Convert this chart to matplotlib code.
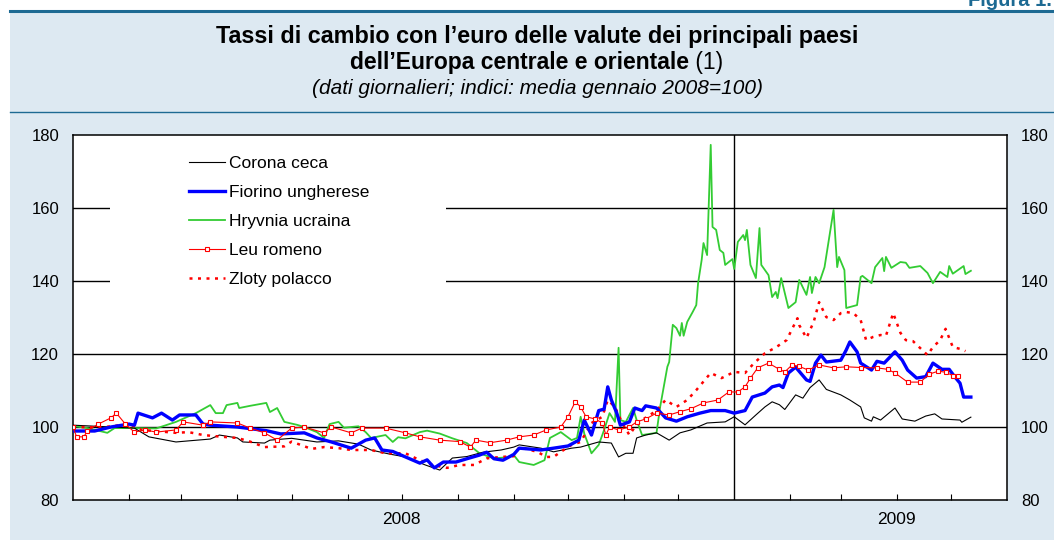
import numpy as np
import matplotlib
matplotlib.use("Agg")
import matplotlib.pyplot as plt
from matplotlib.patches import Rectangle
from matplotlib.lines import Line2D
import matplotlib.transforms as mtransforms

plt.rcParams['font.family'] = ['Liberation Sans', 'DejaVu Sans']

# giorni dal 1 gennaio 2008 e indici (media gennaio 2008=100)
giorni_corona = [0, 34, 42, 57, 64, 76, 81, 91, 94, 106, 109, 121, 135, 147, 158, 165, 175, 184, 195, 203,
                 210, 218, 227, 237, 244, 247, 259, 266, 276, 281, 291, 298, 302, 306, 310, 312, 317, 323, 330, 336,
                 342, 351, 361, 366, 372, 378, 383, 387, 391, 394, 400, 404, 408, 413, 417, 425, 430, 436, 438, 442,
                 443, 447, 455, 459, 466, 472, 477, 481, 491, 492, 497]
valori_corona = [100.5, 99.7, 97.3, 95.9, 96.2, 96.7, 97.8, 97.0, 95.9, 95.6, 96.4, 96.9, 95.9, 96.2, 95.3, 93.7, 92.6, 91.8, 89.6, 88.2,
                 91.5, 91.9, 93.1, 93.7, 94.5, 95.1, 94.2, 93.2, 94.2, 94.5, 95.9, 95.6, 91.8, 92.8, 92.8, 97.0, 97.8, 98.4, 96.4, 98.4,
                 99.2, 101.1, 101.4, 102.8, 100.6, 103.3, 105.5, 106.9, 106.1, 104.8, 108.8, 107.9, 110.8, 112.9, 110.3, 108.8, 107.4, 105.5, 102.5, 101.6,
                 102.8, 101.9, 105.2, 102.2, 101.6, 103.0, 103.6, 102.2, 101.9, 101.3, 102.7]

giorni_fiorino = [0, 12, 21, 31, 34, 36, 44, 49, 55, 59, 68, 72, 76, 91, 102, 107, 115, 128, 135, 143,
                  154, 162, 167, 171, 177, 184, 192, 196, 200, 205, 212, 218, 225, 229, 233, 238, 244, 247, 259, 266,
                  274, 280, 283, 287, 291, 294, 296, 298, 301, 303, 308, 311, 315, 317, 323, 328, 334, 340, 347, 353,
                  361, 366, 372, 376, 383, 387, 391, 393, 396, 400, 406, 408, 411, 414, 417, 425, 428, 430, 434, 436,
                  442, 445, 449, 455, 459, 462, 467, 472, 476, 481, 485, 488, 491, 493, 497]
valori_fiorino = [98.9, 98.9, 100.0, 100.8, 100.5, 103.8, 102.5, 103.8, 101.9, 103.3, 103.3, 100.8, 100.5, 100.0, 99.3, 99.0, 98.1, 98.4, 97.0, 95.9,
                  94.2, 96.4, 97.0, 93.7, 93.3, 91.8, 90.1, 91.0, 88.8, 90.4, 90.4, 91.3, 92.3, 93.1, 91.3, 90.9, 92.5, 94.2, 93.7, 94.2,
                  94.8, 96.4, 101.9, 97.8, 104.5, 104.9, 111.0, 107.4, 103.8, 100.5, 101.4, 105.2, 104.5, 105.8, 105.2, 102.5, 101.6, 102.8, 103.8, 104.5,
                  104.5, 103.8, 104.5, 108.2, 109.3, 111.0, 111.5, 110.8, 114.8, 116.4, 112.9, 112.5, 117.5, 119.7, 117.8, 118.3, 121.1, 123.3, 120.6, 117.5,
                  115.6, 118.0, 117.5, 120.6, 118.3, 115.6, 113.4, 113.8, 117.5, 115.8, 115.8, 113.8, 112.0, 108.2, 108.2]

giorni_hryvnia = [0, 8, 19, 23, 34, 46, 57, 68, 76, 79, 83, 85, 91, 92, 98, 107, 109, 113, 117, 124,
                  128, 135, 139, 142, 147, 150, 158, 162, 165, 173, 177, 180, 184, 192, 196, 203, 210, 218, 225, 233,
                  240, 244, 247, 255, 261, 264, 270, 276, 279, 281, 283, 287, 291, 294, 297, 300, 302, 303, 306, 310,
                  312, 315, 323, 325, 327, 329, 330, 332, 334, 336, 337, 338, 340, 343, 345, 346, 348, 349, 351, 353,
                  354, 356, 358, 360, 361, 365, 366, 368, 371, 372, 373, 375, 378, 380, 381, 385, 387, 389, 390, 392,
                  396, 400, 402, 406, 408, 409, 411, 413, 416, 421, 423, 424, 427, 428, 434, 436, 437, 442, 444, 448,
                  449, 450, 453, 458, 461, 463, 469, 473, 476, 480, 484, 485, 487, 493, 494, 497]
valori_hryvnia = [100.3, 99.7, 98.4, 99.7, 99.7, 99.6, 101.4, 103.8, 106.0, 103.8, 103.8, 106.0, 106.6, 105.2, 105.8, 106.6, 104.1, 105.2, 101.4, 100.6,
                  100.0, 98.6, 97.0, 100.8, 101.4, 99.8, 100.2, 98.6, 97.0, 97.8, 95.9, 97.2, 96.9, 98.6, 99.0, 98.2, 96.9, 95.6, 92.8, 91.4,
                  91.7, 92.3, 90.4, 89.6, 90.9, 97.0, 98.6, 96.4, 97.0, 102.8, 98.2, 92.8, 95.1, 99.2, 103.8, 101.4, 121.7, 101.9, 101.4, 105.2,
                  101.9, 97.8, 98.4, 105.5, 111.0, 116.5, 117.8, 128.0, 127.1, 125.0, 128.5, 125.0, 128.8, 131.5, 133.4, 139.4, 145.8, 150.4, 147.1, 177.3,
                  154.8, 154.0, 148.5, 147.7, 144.4, 146.0, 143.3, 150.7, 152.6, 151.2, 154.0, 144.4, 140.8, 154.5, 144.4, 141.6, 135.6, 137.0, 135.3, 140.8,
                  132.6, 134.2, 140.3, 136.2, 141.1, 136.7, 141.1, 139.4, 143.8, 159.5, 143.8, 146.6, 143.0, 132.6, 133.4, 141.1, 141.4, 139.4, 143.8, 146.3,
                  142.7, 146.6, 143.6, 145.2, 145.0, 143.6, 144.1, 142.2, 139.4, 142.5, 141.1, 144.1, 142.0, 144.1, 141.9, 142.8]

giorni_leu = [0, 2, 6, 8, 14, 21, 24, 29, 34, 40, 46, 57, 61, 72, 76, 91, 98, 106, 113, 121,
              128, 139, 143, 154, 160, 173, 184, 192, 203, 214, 220, 223, 231, 240, 247, 255, 262, 270, 274, 278,
              281, 284, 289, 293, 295, 297, 302, 308, 312, 317, 323, 330, 336, 342, 349, 357, 363, 368, 372, 375,
              379, 385, 391, 394, 398, 402, 407, 413, 421, 428, 436, 445, 451, 455, 462, 469, 474, 479, 483, 487, 490]
valori_leu = [100.0, 97.3, 97.3, 99.0, 100.8, 102.5, 103.8, 100.8, 98.6, 99.2, 98.6, 99.2, 101.4, 100.5, 101.4, 101.1, 99.7, 98.4, 96.4, 99.7,
              100.0, 98.4, 100.0, 98.4, 99.7, 99.7, 98.4, 97.3, 96.4, 96.0, 94.5, 96.4, 95.7, 96.4, 97.3, 97.8, 99.2, 100.0, 102.8, 106.9,
              105.5, 102.8, 102.2, 101.1, 97.8, 100.0, 99.2, 100.0, 101.4, 102.2, 103.8, 103.3, 104.2, 105.0, 106.6, 107.4, 109.6, 109.6, 111.0, 113.4,
              116.2, 117.5, 115.8, 115.1, 117.0, 116.6, 115.6, 117.0, 116.2, 116.5, 116.3, 116.2, 115.8, 114.8, 112.3, 112.3, 114.5, 115.3, 115.0, 114.1, 114.1]

giorni_zloty = [0, 16, 31, 38, 57, 64, 72, 83, 91, 98, 106, 117, 121, 132, 139, 147, 154, 165, 173, 184,
                192, 199, 207, 214, 222, 229, 237, 244, 247, 257, 262, 266, 270, 276, 281, 287, 293, 296, 300, 304,
                308, 311, 315, 323, 328, 334, 340, 345, 353, 359, 366, 372, 377, 383, 389, 395, 401, 402, 406, 410,
                413, 417, 421, 425, 428, 432, 436, 439, 443, 447, 450, 454, 458, 461, 465, 473, 476, 480, 483, 487, 491, 494]
valori_zloty = [100.0, 99.9, 100.8, 99.2, 98.4, 98.6, 97.8, 97.3, 97.0, 96.0, 94.5, 94.7, 96.0, 94.0, 94.5, 94.2, 93.7, 93.7, 92.8, 92.8,
                90.9, 89.6, 88.8, 89.6, 89.6, 91.4, 91.8, 92.0, 94.5, 93.2, 91.8, 91.8, 93.2, 95.1, 95.9, 101.1, 102.8, 107.4, 105.5, 101.1,
                97.8, 100.0, 101.9, 104.5, 107.4, 105.5, 107.4, 110.1, 114.8, 113.4, 115.1, 114.8, 117.5, 120.2, 121.8, 123.8, 129.8, 127.9, 124.4, 128.8,
                134.2, 130.1, 129.3, 131.2, 131.5, 131.2, 129.3, 123.8, 124.7, 125.2, 125.0, 131.2, 125.8, 123.8, 123.5, 119.7, 121.9, 123.8, 126.9, 121.9, 121.4, 120.8]

etichette = ['Corona ceca', 'Fiorino ungherese', 'Hryvnia ucraina', 'Leu romeno', 'Zloty polacco']
anni = ['2008', '2009']
pos_anni = ['2008-07-01', '2009-04-01']

inizio = np.datetime64('2008-01-01')


def date(giorni):
    return inizio + np.array(giorni, dtype='timedelta64[D]')


W, H = 1054, 540
fig = plt.figure(figsize=(W / 100, H / 100), dpi=100)
fig.patch.set_facecolor('white')

blu_scuro = '#1d6a93'
# pannello azzurro e righe di intestazione
fig.add_artist(Rectangle((10 / W, 0), 1 - 10 / W, 1 - 11 / H, transform=fig.transFigure,
                         facecolor='#dde9f2', edgecolor='none', zorder=0))
fig.add_artist(Line2D([10 / W, 1], [1 - 11.3 / H] * 2, transform=fig.transFigure, color=blu_scuro, lw=2.2))
fig.add_artist(Line2D([10 / W, 1], [1 - 112 / H] * 2, transform=fig.transFigure, color=blu_scuro, lw=1.0))
fig.text(968 / W, 1 - 6 / H, 'Figura 1.', ha='left', va='baseline', fontsize=14.5, weight='bold', color=blu_scuro)

cx = 537 / W
fig.text(cx, 1 - 37 / H, 'Tassi di cambio con l’euro delle valute dei principali paesi',
         ha='center', va='center', fontsize=16.8, weight='bold')
t_b = fig.text(cx, 1 - 62 / H, 'dell’Europa centrale e orientale', ha='left', va='center', fontsize=16.5, weight='bold')
t_n = fig.text(cx, 1 - 62 / H, ' (1)', ha='left', va='center', fontsize=16.5)
fig.text(cx, 1 - 88 / H, '(dati giornalieri; indici: media gennaio 2008=100)',
         ha='center', va='center', fontsize=15, style='italic')

rend = fig.canvas.get_renderer()
w_b = t_b.get_window_extent(rend).width
w_n = t_n.get_window_extent(rend).width
x0 = 537 - (w_b + w_n) / 2
t_b.set_x(x0 / W)
t_n.set_x((x0 + w_b) / W)

ax = fig.add_axes([73 / W, 40 / H, 934 / W, 365 / H])
ax.set_facecolor('white')

for y in [100, 120, 140, 160]:
    ax.axhline(y, color='black', lw=1.0, zorder=1)
ax.axvline(np.datetime64('2009-01-01'), color='black', lw=1.0, zorder=1)

# sfondo bianco della legenda
ax.add_patch(Rectangle((37 / 934, 1 - 160 / 365), 336 / 934, 152 / 365, transform=ax.transAxes,
                       facecolor='white', edgecolor='none', zorder=1.5))

ax.plot(date(giorni_corona), valori_corona, color='black', lw=0.8, label=etichette[0], zorder=3)
ax.plot(date(giorni_fiorino), valori_fiorino, color='#0000ff', lw=2.4, label=etichette[1], zorder=4)
ax.plot(date(giorni_hryvnia), valori_hryvnia, color='#33cc33', lw=1.3, label=etichette[2], zorder=2)
ax.plot(date(giorni_leu), valori_leu, color='#ff0000', lw=0.8, marker='s', markersize=3.2,
        markerfacecolor='white', markeredgewidth=0.8, label=etichette[3], zorder=5)
ax.plot(date(giorni_zloty), valori_zloty, color='#ff0000', lw=1.8, linestyle=(0, (1.2, 2.2)),
        label=etichette[4], zorder=3)

ax.set_xlim(np.datetime64('2008-01-01'), np.datetime64('2009-06-01'))
ax.set_ylim(80, 180)
ax.set_yticks([80, 100, 120, 140, 160, 180])
ax.tick_params(axis='y', length=0, labelsize=12, pad=10, labelleft=True, labelright=True)

mesi = [m for m in np.arange('2008-02', '2009-06', dtype='datetime64[M]') if str(m) != '2009-01']
ax.set_xticks([m.astype('datetime64[D]') for m in mesi])
ax.tick_params(axis='x', direction='in', length=4.5, width=0.8, labelbottom=False)

trans = mtransforms.blended_transform_factory(ax.transData, ax.transAxes)
for anno, pos in zip(anni, pos_anni):
    ax.text(np.datetime64(pos), -19 / 365, anno, transform=trans, ha='center', va='center', fontsize=12.5)

for s in ax.spines.values():
    s.set_linewidth(1.1)

leg = ax.legend(loc='upper left', bbox_to_anchor=(107 / 934, 1 - 12 / 365), frameon=False,
                fontsize=12.5, borderpad=0, handlelength=2.1, handletextpad=0.2,
                labelspacing=0.8, numpoints=1)
leg.set_zorder(6)

fig.savefig('out.png', dpi=100)
